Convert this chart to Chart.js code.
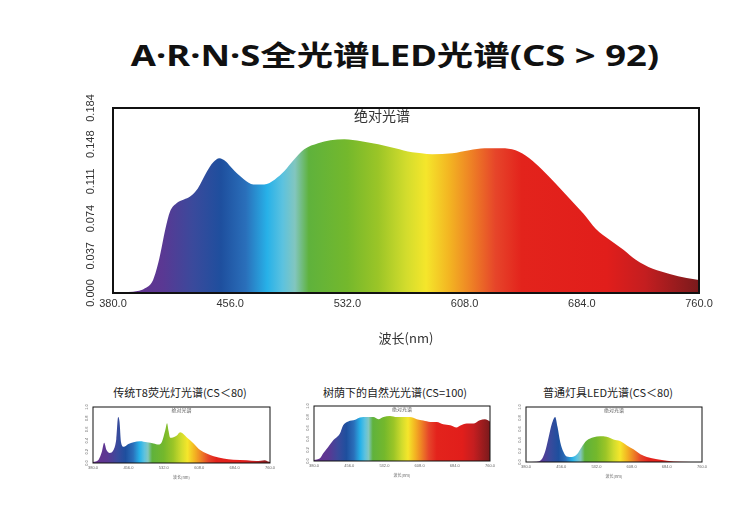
<!DOCTYPE html>
<html>
<head>
<meta charset="utf-8">
<script src="https://cdn.jsdelivr.net/npm/chart.js@4.4.0/dist/chart.umd.min.js"></script>
<style>
  html, body { margin: 0; padding: 0; background: #fff; }
  body {
    width: 750px; height: 524px; position: relative; overflow: hidden;
    font-family: "Noto Sans CJK SC", "Noto Sans", sans-serif;
  }
  #title {
    position: absolute; left: 0; top: 35px; width: 790px;
    text-align: center; font-family: "Noto Sans", "Noto Sans CJK SC", sans-serif;
    font-size: 28px; font-weight: 700; line-height: 40px; color: #111;
    transform: scaleX(1.3); transform-origin: 395px 50%; white-space: nowrap;
  }
  .sub-title {
    position: absolute; top: 383px; font-size: 11px; line-height: 18px;
    color: #222; text-align: center; white-space: nowrap;
  }
  canvas { position: absolute; }
</style>
</head>
<body>
<div id="title">A·R·N·S全光谱LED光谱(CS &gt; 92)</div>
<div class="sub-title" style="left:80px;width:200px">传统T8荧光灯光谱(CS＜80)</div>
<div class="sub-title" style="left:295px;width:200px">树荫下的自然光光谱(CS=100)</div>
<div class="sub-title" style="left:508px;width:200px">普通灯具LED光谱(CS＜80)</div>

<canvas id="mainChart"></canvas>
<canvas id="t8Chart"></canvas>
<canvas id="shadeChart"></canvas>
<canvas id="ledChart"></canvas>

<script>
// ---- data ----

// Main chart: A·R·N·S full spectrum LED (absolute spectrum)
const MAIN_WAVELENGTHS = [380, 390, 396, 400, 406, 410, 414, 417, 421, 426, 430, 435, 441, 445, 449,
  453, 456, 459, 465, 471, 478, 485, 491, 497, 504, 513, 521, 530, 541, 552, 563, 574, 580, 587, 600,
  611, 621, 632, 641, 650, 658, 667, 676, 685, 693, 702, 711, 719, 730, 741, 752, 760];
const MAIN_VALUES = [0.001, 0.001, 0.002, 0.004, 0.013, 0.034, 0.064, 0.081, 0.089, 0.093, 0.096,
  0.104, 0.121, 0.130, 0.134, 0.131, 0.126, 0.121, 0.113, 0.108, 0.108, 0.113, 0.121, 0.132, 0.143,
  0.149, 0.152, 0.153, 0.151, 0.148, 0.144, 0.140, 0.139, 0.138, 0.139, 0.142, 0.144, 0.144, 0.142,
  0.134, 0.123, 0.109, 0.094, 0.079, 0.064, 0.053, 0.043, 0.033, 0.024, 0.019, 0.015, 0.013];
const MAIN_X_TICKS = [380, 456, 532, 608, 684, 760];
const MAIN_Y_TICKS = [0, 0.037, 0.074, 0.111, 0.148, 0.184];

// Small chart 1: traditional T8 fluorescent (relative)
const T8_WAVELENGTHS = [380, 392, 399, 404, 409, 416, 424, 430, 434, 437, 440, 446, 456, 467, 481,
  496, 510, 521, 528, 535, 539, 542, 546, 553, 560, 567, 574, 581, 596, 610, 624, 639, 660, 681,
  710, 731, 749, 756, 760];
const T8_VALUES = [0.02, 0.06, 0.20, 0.36, 0.23, 0.18, 0.23, 0.43, 0.82, 0.73, 0.38, 0.29, 0.34,
  0.37, 0.39, 0.37, 0.35, 0.33, 0.38, 0.58, 0.71, 0.58, 0.45, 0.46, 0.49, 0.55, 0.52, 0.46, 0.35,
  0.23, 0.17, 0.12, 0.08, 0.06, 0.05, 0.035, 0.05, 0.025, 0.02];

// Small chart 2: natural light under tree shade (relative)
const SHADE_WAVELENGTHS = [380, 393, 400, 411, 422, 436, 443, 454, 469, 479, 494, 508, 519, 530,
  544, 559, 573, 587, 602, 616, 631, 645, 659, 674, 688, 695, 710, 724, 738, 749, 760];
const SHADE_VALUES = [0.02, 0.05, 0.14, 0.26, 0.38, 0.50, 0.65, 0.72, 0.75, 0.79, 0.80, 0.80, 0.76,
  0.80, 0.82, 0.80, 0.80, 0.80, 0.76, 0.735, 0.71, 0.71, 0.67, 0.65, 0.61, 0.64, 0.68, 0.68, 0.74,
  0.76, 0.72];

// Small chart 3: ordinary LED (relative)
const LED_WAVELENGTHS = [380, 403, 414, 421, 428, 436, 443, 448, 454, 461, 468, 479, 490, 500, 511,
  526, 540, 554, 569, 583, 598, 612, 627, 641, 663, 684, 713, 760];
const LED_VALUES = [0, 0.005, 0.05, 0.18, 0.42, 0.70, 0.82, 0.64, 0.36, 0.18, 0.10, 0.09, 0.14,
  0.27, 0.39, 0.45, 0.47, 0.46, 0.41, 0.38, 0.30, 0.23, 0.14, 0.09, 0.05, 0.025, 0.006, 0];

const SMALL_Y_TICKS = [0, 0.2, 0.4, 0.6, 0.8, 1.0];

// wavelength -> colour used for the rainbow fill
const SPECTRUM_STOPS = [
  [380, '#6a2f8e'], [412, '#5a3893'], [432, '#3a4a9c'], [450, '#1e4f9e'], [466, '#2a6fba'],
  [480, '#27b1e8'], [490, '#5cc2df'], [498, '#82c6bf'], [507, '#5fb23c'], [532, '#74b82c'],
  [552, '#9bc527'], [570, '#d2dc2d'], [583, '#f5e62b'], [598, '#f3b522'], [612, '#ee8225'],
  [628, '#e6452a'], [645, '#e3231c'], [700, '#e11e1b'], [725, '#c41e20'], [760, '#7a1a1c']
];

const TICK_FONT = "'Liberation Sans', Arial, sans-serif";
const CJK_FONT = "'Noto Sans CJK SC', sans-serif";

// Helper: horizontal rainbow gradient laid on the x scale
function spectrumGradient(chart) {
  const { ctx, chartArea, scales } = chart;
  if (!chartArea || !scales.x) return '#888';
  const x0 = scales.x.getPixelForValue(380);
  const x1 = scales.x.getPixelForValue(760);
  const g = ctx.createLinearGradient(x0, 0, x1, 0);
  SPECTRUM_STOPS.forEach(([nm, c]) => g.addColorStop((nm - 380) / 380, c));
  return g;
}

// Frame around the plot + the little "绝对光谱" caption inside it
const framePlugin = {
  id: 'frame',
  afterDatasetsDraw(chart, args, opts) {
    const { ctx, chartArea: a } = chart;
    ctx.save();
    ctx.strokeStyle = '#111';
    ctx.lineWidth = opts.width;
    ctx.strokeRect(a.left, a.top, a.right - a.left, a.bottom - a.top);
    ctx.fillStyle = opts.labelColor;
    ctx.font = opts.labelSize + 'px ' + CJK_FONT;
    ctx.textAlign = 'center';
    ctx.textBaseline = 'top';
    ctx.fillText(opts.label, (a.left + a.right) / 2 + opts.labelDx, a.top + opts.labelDy);
    ctx.restore();
  }
};

/**
 * Builds one spectrum chart. `box` is where the plot frame should land on the page.
 */
function makeSpectrumChart(id, box, wavelengths, values, cfg) {
  const canvas = document.getElementById(id);
  const left = box.left - cfg.padL, top = box.top - cfg.padT;
  const width = box.width + cfg.padL + cfg.padR;
  const height = box.height + cfg.padT + cfg.padB;
  canvas.width = width; canvas.height = height;
  canvas.style.left = left + 'px'; canvas.style.top = top + 'px';
  canvas.style.width = width + 'px'; canvas.style.height = height + 'px';

  return new Chart(canvas.getContext('2d'), {
    type: 'line',
    data: {
      datasets: [{
        data: wavelengths.map((x, i) => ({ x, y: values[i] })),
        fill: 'origin',
        backgroundColor: (c) => spectrumGradient(c.chart),
        borderColor: 'rgba(0,0,0,0)',
        borderWidth: 0,
        pointRadius: 0,
        cubicInterpolationMode: 'monotone',
      }]
    },
    options: {
      responsive: false,
      animation: false,
      events: [],
      layout: {
        padding: {
          left: cfg.padL - cfg.yAxisW, top: cfg.padT, right: cfg.padR,
          bottom: cfg.padB - cfg.xAxisH
        }
      },
      plugins: {
        legend: { display: false },
        tooltip: { enabled: false },
        frame: {
          width: cfg.frameW, label: '绝对光谱', labelSize: cfg.innerSize,
          labelColor: cfg.innerColor, labelDx: cfg.innerDx, labelDy: cfg.innerDy
        }
      },
      scales: {
        x: {
          type: 'linear',
          min: 380, max: 760,
          grid: { display: false, drawTicks: false },
          border: { display: false },
          afterBuildTicks: (s) => { s.ticks = cfg.xTicks.map(value => ({ value })); },
          afterFit: (s) => { s.height = cfg.xAxisH; s.paddingLeft = 0; s.paddingRight = 0; },
          ticks: {
            autoSkip: false, maxRotation: 0, padding: cfg.xTickPad,
            color: cfg.tickColor, font: { family: TICK_FONT, size: cfg.tickSize },
            callback: (v) => Number(v).toFixed(1)
          },
          title: {
            display: true, text: '波长(nm)', padding: 0,
            color: cfg.tickColor, font: { family: CJK_FONT, size: cfg.axisTitleSize }
          }
        },
        y: {
          min: 0, max: cfg.yMax,
          grid: { display: false, drawTicks: false },
          border: { display: false },
          afterBuildTicks: (s) => { s.ticks = cfg.yTicks.map(value => ({ value })); },
          afterFit: (s) => { s.width = cfg.yAxisW; s.paddingTop = 0; s.paddingBottom = 0; },
          ticks: {
            autoSkip: false, minRotation: 90, maxRotation: 90, crossAlign: 'center',
            padding: cfg.yTickPad,
            color: cfg.tickColor, font: { family: TICK_FONT, size: cfg.tickSize },
            callback: (v) => Number(v).toFixed(cfg.yDigits)
          }
        }
      }
    },
    plugins: [framePlugin]
  });
}

// Main chart
makeSpectrumChart('mainChart', { left: 113, top: 108, width: 586, height: 185 },
  MAIN_WAVELENGTHS, MAIN_VALUES, {
    padL: 113, padT: 18, padR: 51, padB: 70,
    yAxisW: 30, xAxisH: 53, xTickPad: 4, yTickPad: 8, yDigits: 3,
    yMax: 0.184, xTicks: MAIN_X_TICKS, yTicks: MAIN_Y_TICKS,
    tickColor: '#333', tickSize: 11, axisTitleSize: 13,
    frameW: 2, innerSize: 14, innerColor: '#333', innerDx: -24, innerDy: 1
  });

// Three small comparison charts
const smallCfg = {
  padL: 16, padT: 6, padR: 10, padB: 22,
  yAxisW: 12, xAxisH: 17, xTickPad: 2, yTickPad: 3, yDigits: 1,
  yMax: 1.0, xTicks: MAIN_X_TICKS, yTicks: SMALL_Y_TICKS,
  tickColor: '#666', tickSize: 4, axisTitleSize: 4,
  frameW: 1, innerSize: 5, innerColor: '#555', innerDx: 0, innerDy: 1
};
makeSpectrumChart('t8Chart', { left: 93, top: 407, width: 177, height: 56 },
  T8_WAVELENGTHS, T8_VALUES, smallCfg);
makeSpectrumChart('shadeChart', { left: 314, top: 406, width: 176, height: 55 },
  SHADE_WAVELENGTHS, SHADE_VALUES, smallCfg);
makeSpectrumChart('ledChart', { left: 526, top: 407, width: 176, height: 55 },
  LED_WAVELENGTHS, LED_VALUES, smallCfg);
</script>
</body>
</html>
